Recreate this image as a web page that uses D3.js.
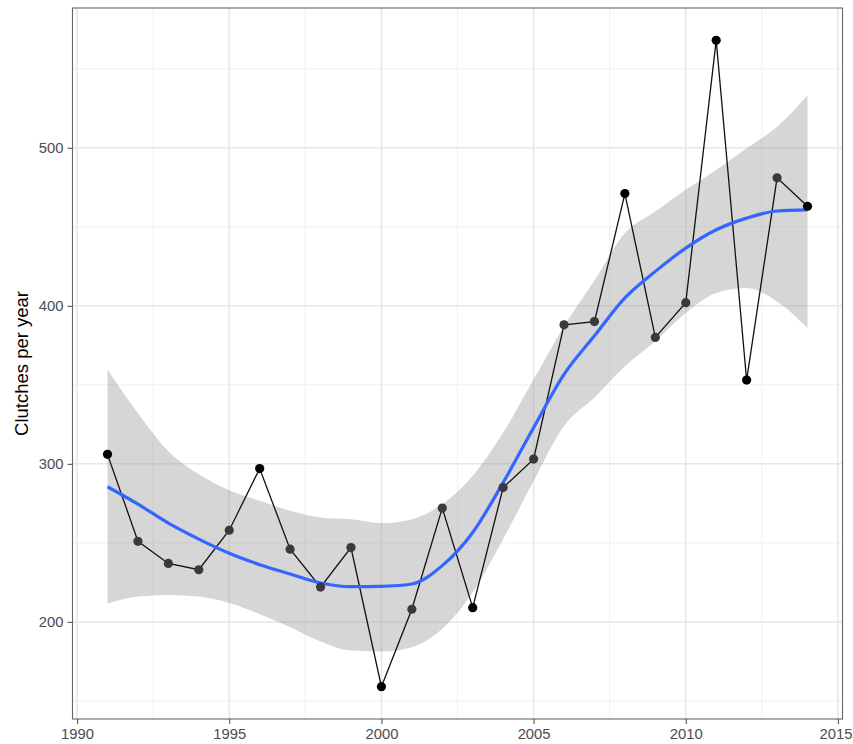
<!DOCTYPE html>
<html>
<head>
<meta charset="utf-8">
<script src="https://cdn.jsdelivr.net/npm/d3@7"></script>
<style>
  html, body { margin: 0; padding: 0; background: #fff; }
  svg { display: block; font-family: "Liberation Sans", Arial, sans-serif; }
</style>
</head>
<body>
<svg id="chart" width="853" height="744"></svg>
<script>
// ---- data ----
const years = [1991,1992,1993,1994,1995,1996,1997,1998,1999,2000,2001,2002,2003,2004,2005,2006,2007,2008,2009,2010,2011,2012,2013,2014];
const clutches = [306,251,237,233,258,297,246,222,247,159,208,272,209,285,303,388,390,471,380,402,568,353,481,463];
const pointGroup = ["a","b","b","b","b","a","b","b","b","a","b","b","a","b","b","b","b","a","b","b","a","a","b","a"];
// smoothed trend and its confidence band
const fitValues   = [285.5,274.5,262.5,252.4,243.4,236.2,230.3,224.6,222.3,222.5,224.0,235.6,256.6,288.2,322.9,356.6,381.0,405.0,421.8,436.5,448.1,455.5,460.0,460.7];
const lowerValues = [211.5,216.0,217.0,216.0,212.0,205.0,196.6,187.6,181.9,181.3,184.0,195.6,218.7,252.4,289.2,323.9,342.0,361.8,377.6,395.5,408.1,411.3,402.8,386.0];
const upperValues = [359.7,332.0,308.0,293.4,283.3,276.6,270.3,266.1,265.0,262.5,265.0,274.5,292.4,319.8,353.4,387.1,416.0,446.0,459.7,473.4,486.0,499.7,513.3,533.3];
const xTicks = [1990,1995,2000,2005,2010,2015];
const xMinor = [1992.5,1997.5,2002.5,2007.5,2012.5];
const yTicks = [200,300,400,500];
const yMinor = [150,250,350,450,550];
const yTitle = "Clutches per year";

// ---- layout ----
const W = 853;
const svg = d3.select("#chart");
const P = {left: 72.5, right: 842.5, top: 8, bottom: 719};

const xExt = d3.extent(years), xPad = (xExt[1]-xExt[0])*0.05;
const yExt = d3.extent(clutches), yPad = (yExt[1]-yExt[0])*0.05;
const x = d3.scaleLinear().domain([xExt[0]-xPad, xExt[1]+xPad]).range([P.left, P.right]);
const y = d3.scaleLinear().domain([yExt[0]-yPad, yExt[1]+yPad]).range([P.bottom, P.top]);

const rows = years.map((yr,i) => ({yr, v: clutches[i], g: pointGroup[i], fit: fitValues[i], lo: lowerValues[i], hi: upperValues[i]}));

// panel background
svg.append("rect").attr("x", P.left).attr("y", P.top)
  .attr("width", P.right-P.left).attr("height", P.bottom-P.top).attr("fill", "#fff");

// grid
const grid = svg.append("g");
grid.selectAll(".xm").data(xMinor).join("line")
  .attr("x1", d=>x(d)).attr("x2", d=>x(d)).attr("y1", P.top).attr("y2", P.bottom)
  .attr("stroke", "#ebebeb").attr("stroke-width", 0.8);
grid.selectAll(".ym").data(yMinor).join("line")
  .attr("y1", d=>y(d)).attr("y2", d=>y(d)).attr("x1", P.left).attr("x2", P.right)
  .attr("stroke", "#ebebeb").attr("stroke-width", 0.8);
grid.selectAll(".xM").data(xTicks).join("line")
  .attr("x1", d=>x(d)).attr("x2", d=>x(d)).attr("y1", P.top).attr("y2", P.bottom)
  .attr("stroke", "#e6e6e6").attr("stroke-width", 1.5);
grid.selectAll(".yM").data(yTicks).join("line")
  .attr("y1", d=>y(d)).attr("y2", d=>y(d)).attr("x1", P.left).attr("x2", P.right)
  .attr("stroke", "#e6e6e6").attr("stroke-width", 1.5);

// ribbon
const area = d3.area().x(d=>x(d.yr)).y0(d=>y(d.lo)).y1(d=>y(d.hi)).curve(d3.curveMonotoneX);
svg.append("path").datum(rows).attr("d", area).attr("fill", "#999999").attr("fill-opacity", 0.4);

// data line
const line = d3.line().x(d=>x(d.yr)).y(d=>y(d.v));
svg.append("path").datum(rows).attr("d", line).attr("fill", "none")
  .attr("stroke", "#111").attr("stroke-width", 1.3);

// smooth line
const fitLine = d3.line().x(d=>x(d.yr)).y(d=>y(d.fit)).curve(d3.curveMonotoneX);
svg.append("path").datum(rows).attr("d", fitLine).attr("fill", "none")
  .attr("stroke", "#3366FF").attr("stroke-width", 3.2);

// points
const pColor = d3.scaleOrdinal().domain(["a","b"]).range(["#000000","#3a3a3a"]);
svg.selectAll(".pt").data(rows).join("circle")
  .attr("cx", d=>x(d.yr)).attr("cy", d=>y(d.v)).attr("r", 4.6)
  .attr("fill", d=>pColor(d.g));

// panel border
svg.append("rect").attr("x", P.left).attr("y", P.top)
  .attr("width", P.right-P.left).attr("height", P.bottom-P.top)
  .attr("fill", "none").attr("stroke", "#666").attr("stroke-width", 1.1);

// axes
const xAxis = d3.axisBottom(x).tickValues(xTicks).tickFormat(d3.format("d")).tickSizeInner(5).tickSizeOuter(0).tickPadding(4);
const gx = svg.append("g").attr("transform", `translate(0,${P.bottom})`).call(xAxis);
gx.select(".domain").remove();
gx.selectAll("line").attr("stroke", "#555").attr("stroke-width", 1.1);
gx.selectAll("text").attr("fill", "#4d4d4d").attr("font-size", 14.8).attr("font-family", "Liberation Sans, Arial, sans-serif");
// keep the last label inside the page edge
gx.selectAll(".tick text").each(function(d) {
  const bb = this.getBBox();
  const cx = x(d);
  const right = cx + bb.width / 2;
  if (right > W - 1) d3.select(this).attr("dx", (W - 1 - right) + "px");
});

const yAxis = d3.axisLeft(y).tickValues(yTicks).tickSizeInner(5).tickSizeOuter(0).tickPadding(4);
const gy = svg.append("g").attr("transform", `translate(${P.left},0)`).call(yAxis);
gy.select(".domain").remove();
gy.selectAll("line").attr("stroke", "#555").attr("stroke-width", 1.1);
gy.selectAll("text").attr("fill", "#4d4d4d").attr("font-size", 14.8).attr("font-family", "Liberation Sans, Arial, sans-serif");

// y title
svg.append("text")
  .attr("transform", `translate(28,${(P.top+P.bottom)/2}) rotate(-90)`)
  .attr("text-anchor", "middle")
  .attr("font-size", 18.5).attr("fill", "#000")
  .text(yTitle);
</script>
</body>
</html>
